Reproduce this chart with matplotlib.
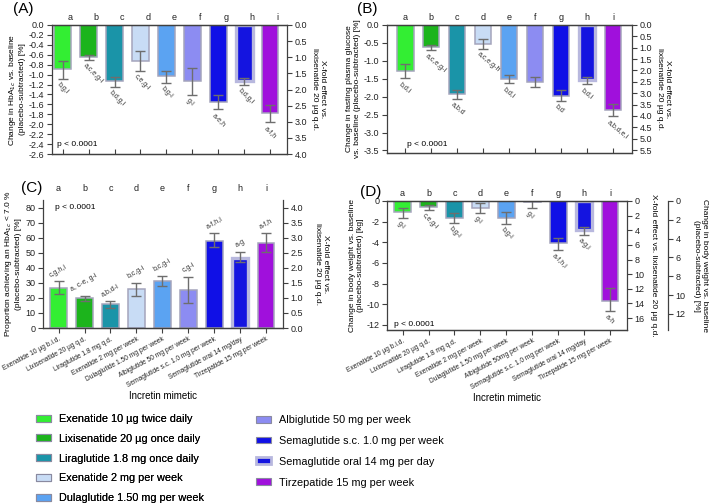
import matplotlib
matplotlib.use("Agg")
from matplotlib import pyplot as plt
from matplotlib.patches import Patch
from matplotlib import transforms
import numpy as np

plt.rcParams['font.family'] = ['Liberation Sans', 'DejaVu Sans']
plt.rcParams['axes.unicode_minus'] = False

W, H = 709, 504

LETTERS = list("abcdefghi")
LEGEND_NAMES = ["Exenatide 10 µg twice daily", "Lixisenatide 20 µg once daily",
                "Liraglutide 1.8 mg once daily", "Exenatide 2 mg per week",
                "Dulaglutide 1.50 mg per week", "Albiglutide 50 mg per week",
                "Semaglutide s.c. 1.0 mg per week", "Semaglutide oral 14 mg per day",
                "Tirzepatide 15 mg per week"]
TICKS_C = ["Exenatide 10 µg b.i.d.", "Lixisenatide 20 µg q.d.", "Liraglutide 1.8 mg q.d.",
           "Exenatide 2 mg per week", "Dulaglutide 1.50 mg per week", "Albiglutide 50 mg per week",
           "Semaglutide s.c. 1.0 mg per week", "Semaglutide oral 14 mg/day", "Tirzepatide 15 mg per week"]
TICKS_D = ["Exenatide 10 µg b.i.d.", "Lixisenatide 20 µg q.d.", "Liraglutide 1.8 mg q.d.",
           "Exenatide 2 mg per week", "Dulaglutide 1.50 mg per week", "Albiglutide 50mg per week",
           "Semaglutide s.c. 1.0 mg per week", "Semaglutide oral 14 mg/day", "Tirzepatide 15 mg per week"]
COLORS = ["#33EE33", "#1CB41C", "#1A94A8", "#C8DCF5", "#5BA3F2",
          "#8C8CF2", "#1010E6", "#1414E0", "#A010DC"]

# (A) HbA1c change [%]
hba1c = [-0.89, -0.64, -1.13, -0.73, -1.03, -1.13, -1.55, -1.13, -1.77]
hba1c_top = [-0.72, -0.60, -1.05, -0.53, -0.92, -0.86, -1.41, -1.07, -1.62]
hba1c_bot = [-1.08, -0.71, -1.25, -0.93, -1.17, -1.41, -1.70, -1.20, -1.96]
hba1c_sig = ["b,g,i", "a,c,e,g-i", "b,d,g,i", "c,e,g-i", "b,g-i", "g-i", "a-e,h", "b,d,g,i", "a-f,h"]

# (B) fasting plasma glucose change
fpg = [-1.27, -0.60, -1.93, -0.53, -1.50, -1.58, -1.97, -1.53, -2.37]
fpg_top = [-1.10, -0.56, -1.81, -0.40, -1.39, -1.46, -1.81, -1.44, -2.21]
fpg_bot = [-1.49, -0.70, -2.05, -0.67, -1.62, -1.74, -2.11, -1.65, -2.55]
fpg_sig = ["b,d,i", "a,c,e,g-i", "a,b,d", "a,c,e,g-h", "b,d,i", "", "b,d", "b,d,i", "a,b,d,e,i"]

# (C) proportion achieving HbA1c < 7.0 %
target = [26.5, 19.7, 15.8, 25.9, 31.3, 25.2, 58.1, 46.7, 56.5]
target_top = [30.9, 21.3, 18.2, 30.2, 34.6, 34.0, 63.1, 50.6, 63.1]
target_bot = [22.8, 18.2, 13.2, 21.5, 27.8, 16.4, 53.7, 43.6, 50.4]
target_sig = ["c,g,h,i", "a, c-e, g-i", "a,b,d-i", "b,c,g-i", "b,c,g-i", "c,g-i", "a-f,h,i", "a-g", "a-f,h"]

# (D) body weight change [kg]
weight = [-1.1, -0.6, -1.65, -0.7, -1.6, -0.13, -4.1, -2.8, -9.65]
weight_top = [-0.7, -0.4, -1.2, -0.2, -1.05, 0.1, -3.55, -2.55, -8.45]
weight_bot = [-1.6, -0.85, -2.1, -1.2, -2.2, -0.7, -4.7, -3.3, -10.7]
weight_sig = ["g-i", "c,e,g-i", "b,g-i", "g-i", "b,g-i", "g-i", "a-f,h,i", "a-g,i", "a-h"]

SPINE = "#404040"
ERR = "#6E6E6E"
TICK_FS = 6.5
LAB_FS = 6.0
XT_FS = 4.8


def px_axes(left, top, right, bottom):
    return [left / W, 1 - bottom / H, (right - left) / W, (bottom - top) / H]


def draw_bars(ax, vals, top, bot):
    x = np.arange(len(vals))
    vals = np.array(vals)
    yerr = [vals - np.array(bot), np.array(top) - vals]
    for i in range(len(vals)):
        ec, lw = ("#B8B8DE", 2.4) if i == 7 else ("#A4A4BC", 1.1)
        ax.bar(x[i], vals[i], width=0.64, color=COLORS[i], edgecolor=ec, linewidth=lw, zorder=2)
    ax.errorbar(x, vals, yerr=yerr, fmt="none", ecolor=ERR, elinewidth=1,
                capsize=3.5, capthick=1, zorder=3)
    return x


def style(ax, twin):
    for a in (ax, twin):
        for s in a.spines.values():
            s.set_color(SPINE)
            s.set_linewidth(0.9)
        a.tick_params(colors=SPINE, labelcolor="#222222", labelsize=TICK_FS, length=3.5, width=0.8, pad=2)
    twin.spines["left"].set_visible(False)
    ax.spines["right"].set_visible(False)


def letters(ax, x, ypos, shift=0.0):
    tr = transforms.blended_transform_factory(ax.transData, ax.transAxes)
    for xi, l in zip(x, LETTERS):
        ax.text(xi + shift, ypos, l, transform=tr, ha="center", va="center", fontsize=6.5, color="#222222")


def sig_below(ax, x, bot, sig, rot=-45):
    for xi, b, s in zip(x, bot, sig):
        if s:
            ax.annotate(s, (xi - 0.28, b), xytext=(0, -1.5), textcoords="offset points",
                        rotation=rot, ha="left", va="top", fontsize=5, color="#333333")


fig = plt.figure(figsize=(W / 100, H / 100), dpi=100)

# ---------- (A) ----------
axA = fig.add_axes(px_axes(52, 25, 287, 154))
xA = draw_bars(axA, hba1c, hba1c_top, hba1c_bot)
axA.set_xlim(-0.41, 8.65)
axA.set_ylim(-2.6, 0)
axA.set_yticks(np.round(np.arange(0, -2.61, -0.2), 1))
axA.yaxis.set_major_formatter(matplotlib.ticker.FormatStrFormatter("%.1f"))
axA.set_xticks(xA)
axA.set_xticklabels([])
axA.tick_params(axis="x", direction="in")
axA.set_ylabel("Change in HbA$_{1c}$ vs. baseline\n(placebo-subtracted) [%]", fontsize=LAB_FS, labelpad=2)
twA = axA.twinx()
twA.set_ylim(4.0, 0)
twA.set_yticks(np.arange(0, 4.01, 0.5))
twA.yaxis.set_major_formatter(matplotlib.ticker.FormatStrFormatter("%.1f"))
twA.set_ylabel("X-fold effect vs.\nlixisenatide 20 µg q.d.", rotation=270, va="bottom", fontsize=LAB_FS, labelpad=3)
style(axA, twA)
letters(axA, xA, 1.062, shift=0.3)
sig_below(axA, xA, hba1c_bot, hba1c_sig)
axA.text(0.02, 0.07, "p < 0.0001", transform=axA.transAxes, fontsize=6, va="center")

# ---------- (B) ----------
axB = fig.add_axes(px_axes(387, 25, 632, 153))
xB = draw_bars(axB, fpg, fpg_top, fpg_bot)
axB.set_xlim(-0.7, 8.73)
axB.set_ylim(-3.57, 0)
axB.set_yticks(np.arange(0, -3.51, -0.5))
axB.yaxis.set_major_formatter(matplotlib.ticker.FormatStrFormatter("%.1f"))
axB.set_xticks(xB)
axB.set_xticklabels([])
axB.tick_params(axis="x", direction="in")
axB.set_ylabel("Change in fasting plasma glucose\nvs. baseline (placebo-subtracted) [%]", fontsize=LAB_FS, labelpad=2)
twB = axB.twinx()
twB.set_ylim(5.63, 0)
twB.set_yticks(np.arange(0, 5.51, 0.5))
twB.yaxis.set_major_formatter(matplotlib.ticker.FormatStrFormatter("%.1f"))
twB.set_ylabel("X-fold effect vs.\nlixisenatide 20 µg q.d.", rotation=270, va="bottom", fontsize=LAB_FS, labelpad=3)
style(axB, twB)
letters(axB, xB, 1.062)
sig_below(axB, xB, fpg_bot, fpg_sig, rot=-40)
axB.text(0.08, 0.07, "p < 0.0001", transform=axB.transAxes, fontsize=6, va="center")

# ---------- (C) ----------
axC = fig.add_axes(px_axes(43, 200, 283, 328))
xC = draw_bars(axC, target, target_top, target_bot)
axC.set_xlim(-0.6, 8.65)
axC.set_ylim(0, 85)
axC.set_yticks(np.arange(0, 81, 10))
axC.set_xticks(xC)
axC.set_xticklabels(TICKS_C, rotation=28, ha="right", rotation_mode="anchor", fontsize=XT_FS)
axC.set_ylabel("Proportion achieving an HbA$_{1c}$ < 7.0 %\n(placebo-subtracted) [%]", fontsize=LAB_FS, labelpad=2)
axC.set_xlabel("Incretin mimetic", fontsize=7, labelpad=2)
twC = axC.twinx()
twC.set_ylim(0, 4.25)
twC.set_yticks(np.arange(0, 4.01, 0.5))
twC.yaxis.set_major_formatter(matplotlib.ticker.FormatStrFormatter("%.1f"))
twC.set_ylabel("X-fold effect vs.\nlixisenatide 20 µg q.d.", rotation=270, va="bottom", fontsize=LAB_FS, labelpad=8)
style(axC, twC)
axC.spines["top"].set_visible(False)
twC.spines["top"].set_visible(False)
axC.tick_params(axis="x", labelsize=XT_FS, pad=2)
letters(axC, xC, 1.086)
for xi, t, s in zip(xC, target_top, target_sig):
    axC.annotate(s, (xi, t), xytext=(0, 2), textcoords="offset points", rotation=30,
                 ha="center", va="bottom", fontsize=5, color="#333333")
axC.text(0.05, 0.94, "p < 0.0001", transform=axC.transAxes, fontsize=6, va="center")

# ---------- (D) ----------
axD = fig.add_axes(px_axes(387, 201, 627, 330))
xD = draw_bars(axD, weight, weight_top, weight_bot)
axD.set_xlim(-0.6, 8.65)
axD.set_ylim(-12.5, 0)
axD.set_yticks(np.arange(0, -12.1, -2))
axD.set_xticks(xD)
axD.set_xticklabels(TICKS_D, rotation=28, ha="right", rotation_mode="anchor", fontsize=XT_FS)
axD.set_ylabel("Change in body weight vs. baseline\n(placebo-subtracted) [kg]", fontsize=LAB_FS, labelpad=2)
axD.set_xlabel("Incretin mimetic", fontsize=7, labelpad=2)
twD = axD.twinx()
twD.set_ylim(17.64, 0)
twD.set_yticks(np.arange(0, 16.1, 2))
twD.set_ylabel("X-fold effect vs. lixisenatide 20 µg q.d.", rotation=270, va="bottom", fontsize=LAB_FS, labelpad=4)
style(axD, twD)
axD.tick_params(axis="x", labelsize=XT_FS, pad=2)
tw2 = axD.twinx()
tw2.set_ylim(13.7, 0)
tw2.set_yticks(np.arange(0, 12.1, 2))
tw2.spines["right"].set_position(("axes", 1.171))
for k in ("left", "top", "bottom"):
    tw2.spines[k].set_visible(False)
tw2.spines["right"].set_color(SPINE)
tw2.spines["right"].set_linewidth(0.9)
tw2.tick_params(colors=SPINE, labelcolor="#222222", labelsize=TICK_FS, length=3.5, width=0.8, pad=2)
tw2.set_ylabel("Change in body weight vs. baseline\n(placebo-subtracted) [%]", rotation=270, va="bottom",
               fontsize=LAB_FS, labelpad=5)
letters(axD, xD, 1.062)
sig_below(axD, xD, weight_bot, weight_sig)
axD.text(0.03, 0.04, "p < 0.0001", transform=axD.transAxes, fontsize=6, va="center")

# panel labels
for lab, (px, py) in zip(["(A)", "(B)", "(C)", "(D)"], [(23, 9), (367, 9), (32, 188), (371, 192)]):
    fig.text(px / W, 1 - py / H, lab, fontsize=11, ha="center", va="center")

# legend in two blocks
handles = []
for i, name in enumerate(LEGEND_NAMES):
    ec, lw = ("#B8B8DE", 2.0) if i == 7 else ("#8A8AA0", 0.8)
    handles.append(Patch(facecolor=COLORS[i], edgecolor=ec, linewidth=lw))
leg1 = fig.legend(handles[:5], LEGEND_NAMES[:5], loc="upper left", bbox_to_anchor=(36 / W, 1 - 414 / H),
                  frameon=False, fontsize=7.8, borderpad=0, borderaxespad=0, handlelength=1.35,
                  handleheight=0.6, handletextpad=0.8, labelspacing=0.9)
fig.add_artist(leg1)
fig.legend(handles[5:], LEGEND_NAMES[5:], loc="upper left", bbox_to_anchor=(256 / W, 1 - 415 / H),
           frameon=False, fontsize=7.8, borderpad=0, borderaxespad=0, handlelength=1.35,
           handleheight=0.6, handletextpad=0.8, labelspacing=1.0)

fig.savefig("out.png", dpi=100)
